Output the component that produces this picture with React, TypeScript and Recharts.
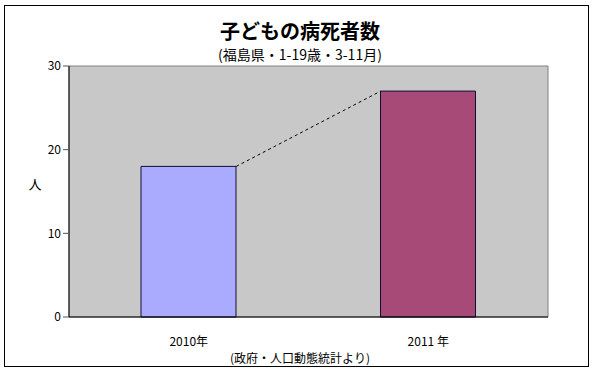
import { BarChart, Bar, XAxis, YAxis, CartesianGrid, ReferenceArea, ReferenceLine, Cell } from "recharts";

const years = ["2010年", "2011 年"];
const deaths = [18, 27];
const barColors = ["#AAAAFF", "#A84A78"];
const yTicks = [0, 10, 20, 30];

const data = years.map((y, i) => ({ year: y, deaths: deaths[i] }));

const BAR_SIZE = 95;
const FONT = "'Noto Sans CJK JP', 'Noto Sans', sans-serif";

// dashed series line from the right top corner of one bar to the left top corner of the next
const SeriesLine = (props: any) => {
  const { x1, y1, x2, y2 } = props;
  if ([x1, y1, x2, y2].some((v) => v == null || isNaN(v))) return <g />;
  return (
    <line
      x1={x1 + BAR_SIZE / 2}
      y1={y1}
      x2={x2 - BAR_SIZE / 2}
      y2={y2}
      stroke="#000"
      strokeWidth={1}
      strokeDasharray="3 3"
    />
  );
};

export default function App() {
  return (
    <div style={{ position: "absolute", left: 0, top: 0, width: 592, height: 370, background: "#fff", fontFamily: FONT }}>
      <div style={{ position: "absolute", left: 4, top: 5, width: 583, height: 360, border: "1px solid #000" }} />
      <svg width={592} height={370} style={{ position: "absolute", left: 0, top: 0 }}>
        <text x={300} y={39} textAnchor="middle" fontSize={20} fontWeight={600} fontFamily={FONT} fill="#000">
          子どもの病死者数
        </text>
        <text x={300} y={60} textAnchor="middle" fontSize={14} fontFamily={FONT} fill="#000">
          (福島県・1-19歳・3-11月)
        </text>
        <text x={35} y={189} textAnchor="middle" fontSize={13} fontFamily={FONT} fill="#000">
          人
        </text>
        <text x={300} y={363} textAnchor="middle" fontSize={12} fontFamily={FONT} fill="#000">
          (政府・人口動態統計より)
        </text>
      </svg>
      <div style={{ position: "absolute", left: 0, top: 0 }}>
        <BarChart width={592} height={370} data={data} margin={{ top: 66, right: 44, bottom: 0, left: 0 }} barSize={BAR_SIZE}>
          <CartesianGrid horizontal={false} vertical={false} fill="#C8C8C8" />
          <ReferenceArea y1={0} y2={30} fill="none" stroke="#808080" strokeWidth={1} ifOverflow="visible" />
          <XAxis
            dataKey="year"
            height={53}
            axisLine={{ stroke: "#000" }}
            tickLine={false}
            tickMargin={14}
            tick={{ fill: "#000", fontSize: 12, fontFamily: FONT }}
          />
          <YAxis
            width={69}
            domain={[0, 30]}
            ticks={yTicks}
            axisLine={{ stroke: "#000" }}
            tickLine={{ stroke: "#555" }}
            tickSize={6}
            tickMargin={2}
            tick={{ fill: "#000", fontSize: 12, fontFamily: FONT }}
          />
          <Bar dataKey="deaths" stroke="#101030" strokeWidth={1} isAnimationActive={false}>
            {data.map((d, i) => (
              <Cell key={d.year} fill={barColors[i]} />
            ))}
          </Bar>
          <ReferenceLine
            segment={[
              { x: years[0], y: deaths[0] },
              { x: years[1], y: deaths[1] },
            ]}
            ifOverflow="visible"
            shape={SeriesLine}
          />
        </BarChart>
      </div>
    </div>
  );
}
